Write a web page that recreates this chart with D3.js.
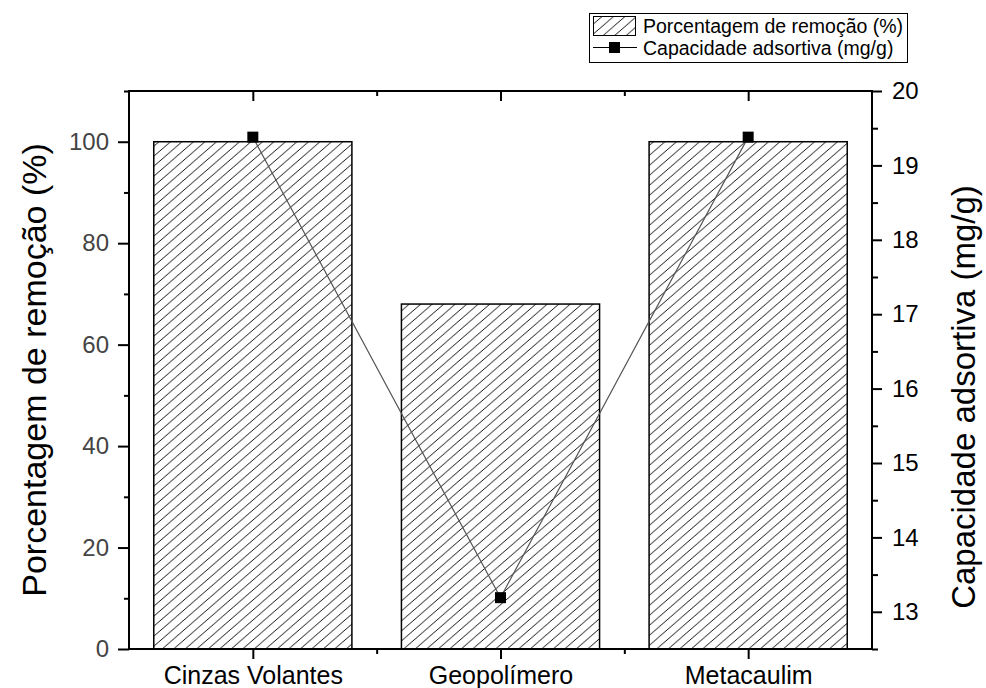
<!DOCTYPE html>
<html><head><meta charset="utf-8">
<script src="https://cdn.jsdelivr.net/npm/d3@7"></script>
<style>body{margin:0;background:#fff}svg{display:block}text{font-family:"Liberation Sans",Arial,sans-serif}</style>
</head><body>
<script>
const categories = ["Cinzas Volantes", "Geopolímero", "Metacaulim"];
const removal = [100, 68, 100];
const capacity = [19.38, 13.19, 19.38];
const leftTicks = [0, 20, 40, 60, 80, 100];
const rightTicks = [13, 14, 15, 16, 17, 18, 19, 20];
const leftTitle = "Porcentagem de remoção (%)";
const rightTitle = "Capacidade adsortiva (mg/g)";
const legendLabels = ["Porcentagem de remoção (%)", "Capacidade adsortiva (mg/g)"];

const W = 986, H = 688;
const m = {l:129, r:872, t:91, b:649};
const svg = d3.select("body").append("svg").attr("width", W).attr("height", H);

const defs = svg.append("defs");
const pat = defs.append("pattern").attr("id","hatch").attr("patternUnits","userSpaceOnUse")
  .attr("width", 11.5).attr("height", 10);
pat.append("path").attr("d","M-2,11.74 L13.5,-1.74 M-13.5,11.74 L2,-1.74 M9.5,11.74 L25,-1.74")
  .attr("stroke","#000").attr("stroke-width",0.9).attr("fill","none");

const x = d3.scaleLinear().domain([0.5, 3.5]).range([m.l, m.r]);
const yL = d3.scaleLinear().domain([0, 110]).range([m.b, m.t]);
const yR = d3.scaleLinear().domain([12.5, 20]).range([m.b, m.t]);
const bw = (x(1) - x(0)) * 0.8;

// bars
svg.append("g").selectAll("rect").data(removal).join("rect")
  .attr("x", (d,i) => x(i+1) - bw/2).attr("width", bw)
  .attr("y", d => yL(d)).attr("height", d => yL(0) - yL(d))
  .attr("fill", "url(#hatch)").attr("stroke", "#000").attr("stroke-width", 1.5);

// line
const line = d3.line().x((d,i) => x(i+1)).y(d => yR(d));
svg.append("path").datum(capacity).attr("d", line).attr("fill","none").attr("stroke","#555").attr("stroke-width",1.2);
svg.append("g").selectAll("rect").data(capacity).join("rect")
  .attr("x",(d,i)=>x(i+1)-5.5).attr("y",d=>yR(d)-5.5).attr("width",11).attr("height",11).attr("fill","#000");

// axes
function styleAxis(g, col){
  g.select(".domain").remove();
  g.selectAll("line").attr("stroke","#000").attr("stroke-width",2);
  g.selectAll("text").attr("font-size","24px").attr("fill",col);
}
const lAx = svg.append("g").attr("transform",`translate(${m.l},0)`)
  .call(d3.axisLeft(yL).tickValues(leftTicks).tickSize(11).tickPadding(9));
styleAxis(lAx, "#444");
svg.append("g").attr("transform",`translate(${m.l},0)`)
  .call(d3.axisLeft(yL).tickValues(d3.range(10,111,20)).tickSize(5).tickFormat(""))
  .call(g=>styleAxis(g,"#000"));
const rAx = svg.append("g").attr("transform",`translate(${m.r},0)`)
  .call(d3.axisRight(yR).tickValues(rightTicks).tickSize(10).tickPadding(10));
styleAxis(rAx, "#000");
svg.append("g").attr("transform",`translate(${m.r},0)`)
  .call(d3.axisRight(yR).tickValues(d3.range(12.5,20,1)).tickSize(6).tickFormat(""))
  .call(g=>styleAxis(g,"#000"));
const bAx = svg.append("g").attr("transform",`translate(0,${m.b})`)
  .call(d3.axisBottom(x).tickValues([1,2,3]).tickSize(10).tickPadding(7).tickFormat(i=>categories[i-1]));
styleAxis(bAx, "#000");
bAx.selectAll("text").attr("font-size","25px");
svg.append("g").attr("transform",`translate(0,${m.b})`)
  .call(d3.axisBottom(x).tickValues([1.5,2.5]).tickSize(5).tickFormat(""))
  .call(g=>styleAxis(g,"#000"));
svg.append("g").attr("transform",`translate(0,${m.t})`)
  .call(d3.axisBottom(x).tickValues([1,2,3]).tickSize(10).tickFormat(""))
  .call(g=>styleAxis(g,"#000"));
svg.append("g").attr("transform",`translate(0,${m.t})`)
  .call(d3.axisBottom(x).tickValues([1.5,2.5]).tickSize(5).tickFormat(""))
  .call(g=>styleAxis(g,"#000"));

// frame
svg.append("rect").attr("x",m.l).attr("y",m.t).attr("width",m.r-m.l).attr("height",m.b-m.t)
  .attr("fill","none").attr("stroke","#000").attr("stroke-width",2);

// titles
svg.append("text").attr("transform",`translate(46,${(m.t+m.b)/2}) rotate(-90)`)
  .attr("text-anchor","middle").attr("font-size","34px").attr("fill","#000").text(leftTitle);
svg.append("text").attr("transform",`translate(975,${(m.t+m.b)/2 + 27}) rotate(-90)`)
  .attr("text-anchor","middle").attr("font-size","33px").attr("fill","#000").text(rightTitle);

// legend
const lg = svg.append("g");
lg.append("rect").attr("x",589.5).attr("y",13.5).attr("width",318).attr("height",49)
  .attr("fill","#fff").attr("stroke","#000").attr("stroke-width",1);
lg.append("rect").attr("x",593.5).attr("y",16.5).attr("width",42).attr("height",19)
  .attr("fill","url(#hatch)").attr("stroke","#000").attr("stroke-width",1);
lg.append("line").attr("x1",593).attr("x2",637).attr("y1",47.5).attr("y2",47.5).attr("stroke","#000").attr("stroke-width",1);
lg.append("rect").attr("x",609).attr("y",42).attr("width",11).attr("height",11).attr("fill","#000");
lg.selectAll("text.lt").data(legendLabels).join("text").attr("class","lt")
  .attr("x",643).attr("y",(d,i)=>33+i*22).attr("font-size","19.5px").attr("fill","#000").text(d=>d);
</script>
</body></html>
